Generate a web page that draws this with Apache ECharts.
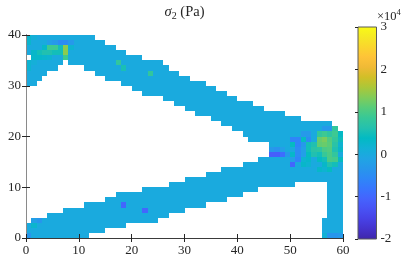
<!DOCTYPE html>
<html><head><meta charset="utf-8">
<script src="https://cdn.jsdelivr.net/npm/echarts@6/dist/echarts.min.js"></script>
<style>html,body{margin:0;padding:0;background:#fff}#c{width:411px;height:268px}</style>
</head><body><div id="c"></div>
<script>
// ---- data ----
const xTicks = [0, 10, 20, 30, 40, 50, 60];
const yTicks = [0, 10, 20, 30, 40];
const colorbarTicks = [-2, -1, 0, 1, 2, 3]; // x10^4 Pa
// parula colormap
const parula = ['#3E26A8','#4432CB','#4741E5','#4852F4','#4563FD','#3875FE','#2E87F7','#2797EB','#20A5E3','#12B1D6','#02BAC3','#24C1AE','#37C897','#57CC7A','#81CC59','#ABC739','#D1BF27','#F0BA36','#FEC338','#FAD62D','#F5E924','#F9FB15'];
// element columns 0..59: filled rows [bottom, top)
const upperTop    = [40,40,40,40,40,40,40,40,40,40,40,40,40,39,39,38,38,37,37,36,36,36,35,35,35,35,34,33,33,32,32,31,31,31,30,30,29,29,28,28,27,27,27,26,26,25,25,25,25,24,24,24,23,23,23,23,23,23,22,21];
const upperBottom = [30,30,31,32,33,33,34,35,34,34,34,33,33,32,32,31,31,31,30,30,29,29,28,28,28,28,27,27,26,26,25,25,24,24,24,23,23,22,22,21,21,20,19,19,19,19,null,null,null,null,null,null,null,null,null,null,null,null,null,null];
const lowerTop    = [3,4,4,4,5,5,5,6,6,6,6,7,7,7,7,8,8,9,9,9,9,9,10,10,10,10,10,11,11,11,12,12,12,12,13,13,13,14,14,14,14,15,15,15,16,16,null,null,null,null,null,null,null,null,null,null,null,null,null,null];
const lowerBottom = [0,0,0,0,0,0,0,0,0,0,0,0,1,1,1,2,2,2,2,3,3,3,3,3,3,4,4,5,5,5,6,6,6,6,7,7,7,7,8,8,8,9,9,9,10,10,10,10,10,10,10,11,11,11,11,11,11,0,0,0];
const extraSegments = [[56, 0, 4]];   // [column, fromRow, toRow)
const holes = [[0, 35]];
const baseStress = 0; // Pa, bulk of the structure
const stressCells = [ // [x, y, sigma2 in Pa]
  [0,39,2500],[1,39,1000],[0,38,2500],[4,38,-2000],[5,38,-3000],[6,38,-5000],[7,38,-5000],[8,38,-3000],
  [3,37,3000],[4,37,9000],[5,37,9000],[6,37,5000],[7,37,14000],[8,37,2000],
  [1,36,3000],[2,36,5000],[3,36,6000],[4,36,6000],[5,36,5000],[6,36,5000],[7,36,14000],
  [1,35,3000],[2,35,3000],[3,35,2500],[4,35,2000],[7,35,9000],
  [0,34,2000],[0,33,2000],[1,34,1000],
  [17,34,8000],[18,33,5500],[23,32,8000],
  [18,6,-10000],[22,5,-10000],[0,0,-3500],[1,2,2500],[2,3,-3500],[1,3,-2000],
  [57,0,-3500],[58,0,-3500],[59,0,-3000],[56,0,1500],
  [56,21,-3000],[57,21,-3000],[58,21,8000],
  [52,20,-3000],[53,20,-3000],[55,20,8000],[56,20,9000],[57,20,7500],[58,20,9000],[59,20,3500],
  [50,19,-6000],[51,19,-6000],[52,19,4000],[53,19,-5000],[55,19,12000],[56,19,13000],[57,19,10500],[58,19,8000],[59,19,4500],
  [50,18,4000],[51,18,-6000],[52,18,-3000],[53,18,5000],[54,18,6000],[55,18,11500],[56,18,12000],[57,18,11000],[58,18,7000],[59,18,2000],
  [46,17,-3000],[47,17,-4000],[48,17,-2000],[51,17,-5000],[52,17,-2000],[53,17,5000],[54,17,7000],[55,17,7500],[56,17,10000],[57,17,10500],[58,17,6000],[59,17,3000],
  [46,16,-11000],[47,16,-11000],[48,16,-9000],[49,16,-3000],[50,16,3000],[51,16,-5000],[52,16,-2000],[53,16,4000],[54,16,6000],[55,16,5000],[56,16,8500],[57,16,10000],[58,16,8000],
  [50,15,-2000],[51,15,-6000],[52,15,2000],[53,15,3000],[55,15,4000],[56,15,5000],[57,15,10000],[58,15,9500],[59,15,4000],
  [50,14,-10000],[52,14,3000],[53,14,2000],[56,14,3000],[57,14,6000],[58,14,5000],
  [55,13,3000],[56,13,2000],[57,13,4000]
];

// ---- build cells ----
const override = {};
stressCells.forEach(c => { override[c[0] + ',' + c[1]] = c[2]; });
const holeSet = {};
holes.forEach(h => { holeSet[h[0] + ',' + h[1]] = true; });
const segments = [];
for (let i = 0; i < upperTop.length; i++) {
  if (upperBottom[i] != null) {
    segments.push([i, upperBottom[i], upperTop[i]]);
    segments.push([i, lowerBottom[i], lowerTop[i]]);
  } else {
    segments.push([i, lowerBottom[i], upperTop[i]]);
  }
}
extraSegments.forEach(s => segments.push(s));
const cells = [];
segments.forEach(s => {
  for (let j = s[1]; j < s[2]; j++) {
    const k = s[0] + ',' + j;
    if (holeSet[k]) continue;
    cells.push([s[0], j, override[k] !== undefined ? override[k] : baseStress]);
  }
});

const serif = 'Liberation Serif';
const txt = '#262626';
const chart = echarts.init(document.getElementById('c'), null, {renderer: 'canvas'});
const tickStyle = {lineStyle: {color: '#262626', width: 1}};
chart.setOption({
  animation: false,
  grid: [{left: 26, right: 68, top: 27, bottom: 30}, {left: 358, width: 18.5, top: 27, bottom: 29}],
  visualMap: {show: false, type: 'continuous', seriesIndex: 0, dimension: 2,
    min: colorbarTicks[0] * 1e4, max: colorbarTicks[colorbarTicks.length - 1] * 1e4,
    inRange: {color: parula}},
  graphic: [{type: 'text', left: 377, top: 8, z: 20,
    style: {text: '{a|×10}{b|4}', rich: {
      a: {fontFamily: serif, fontSize: 12.5, fill: txt, padding: [5, 0, 0, 0]},
      b: {fontFamily: serif, fontSize: 8.5, fill: txt, padding: [0, 0, 4, 0]}}}}],
  xAxis: [
    {gridIndex: 0, type: 'value', min: xTicks[0], max: xTicks[xTicks.length - 1], interval: 10, position: 'bottom', z: 10,
     axisLine: {show: true, lineStyle: {color: '#8a8a8a', width: 1}}, axisTick: Object.assign({inside: true, length: 4}, tickStyle),
     axisLabel: {color: txt, fontFamily: serif, fontSize: 13, margin: 6}, splitLine: {show: false}},
    {gridIndex: 0, type: 'value', min: xTicks[0], max: xTicks[xTicks.length - 1], interval: 10, position: 'top', z: 10,
     axisLine: {show: true, lineStyle: {color: '#3a3a3a', width: 1}}, axisTick: Object.assign({inside: true, length: 4}, tickStyle),
     axisLabel: {show: false}, splitLine: {show: false},
     name: '{i|σ}{s|2}{n| (Pa)}', nameLocation: 'middle', nameGap: 14,
     nameTextStyle: {color: txt, rich: {
       i: {fontFamily: serif, fontStyle: 'italic', fontSize: 14.5, color: txt},
       s: {fontFamily: serif, fontSize: 10, color: txt, padding: [7, 0, 0, 0]},
       n: {fontFamily: serif, fontSize: 14.5, color: txt}}}},
    {gridIndex: 1, type: 'value', min: 0, max: 1, show: false}
  ],
  yAxis: [
    {gridIndex: 0, type: 'value', min: yTicks[0], max: yTicks[yTicks.length - 1], interval: 10, position: 'left', z: 10,
     axisLine: {show: true, lineStyle: {color: '#3a3a3a', width: 1}}, axisTick: Object.assign({inside: true, length: 4}, tickStyle),
     axisLabel: {color: txt, fontFamily: serif, fontSize: 13, margin: 5}, splitLine: {show: false}},
    {gridIndex: 0, type: 'value', min: yTicks[0], max: yTicks[yTicks.length - 1], interval: 10, position: 'right', z: 10,
     axisLine: {show: true, lineStyle: {color: '#8a8a8a', width: 1}}, axisTick: Object.assign({inside: true, length: 4}, tickStyle),
     axisLabel: {show: false}, splitLine: {show: false}},
    {gridIndex: 1, type: 'value', min: colorbarTicks[0], max: colorbarTicks[colorbarTicks.length - 1], interval: 1, position: 'right', z: 10,
     axisLine: {show: false}, axisTick: Object.assign({inside: true, length: 3}, tickStyle),
     axisLabel: {color: txt, fontFamily: serif, fontSize: 13, margin: 4}, splitLine: {show: false}}
  ],
  series: [
    {type: 'custom', xAxisIndex: 0, yAxisIndex: 0, clip: true, data: cells, encode: {x: 0, y: 1},
     renderItem: function (params, api) {
       const x = api.value(0), y = api.value(1);
       const p0 = api.coord([x, y + 1]);
       const p1 = api.coord([x + 1, y]);
       const x0 = Math.round(p0[0]), y0 = Math.round(p0[1]);
       const x1 = Math.round(p1[0]), y1 = Math.round(p1[1]);
       return {type: 'rect', shape: {x: x0, y: y0, width: x1 - x0, height: y1 - y0},
         style: {fill: api.visual('color')}};
     }},
    {type: 'custom', xAxisIndex: 2, yAxisIndex: 2, silent: true,
     data: [[0, colorbarTicks[0], 1, colorbarTicks[colorbarTicks.length - 1]]],
     renderItem: function (params, api) {
       const p0 = api.coord([api.value(0), api.value(3)]);
       const p1 = api.coord([api.value(2), api.value(1)]);
       return {type: 'rect', shape: {x: p0[0], y: p0[1], width: p1[0] - p0[0], height: p1[1] - p0[1]},
         style: {fill: new echarts.graphic.LinearGradient(0, 1, 0, 0,
           parula.map((c, i) => ({offset: i / (parula.length - 1), color: c}))),
           stroke: '#5a5a5a', lineWidth: 1}};
     }}
  ]
});
</script></body></html>
